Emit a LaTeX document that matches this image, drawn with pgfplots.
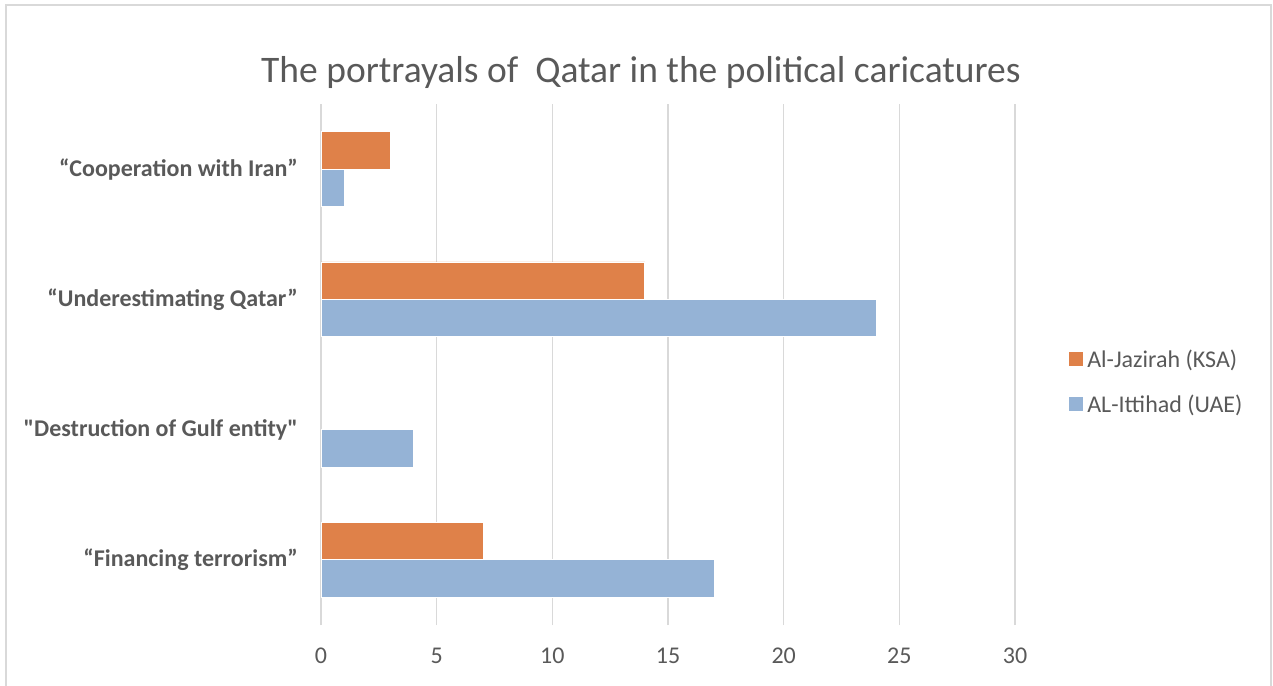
\documentclass[border=0pt]{standalone}
\usepackage{fontspec}
\setmainfont[Ligatures=TeXOff]{Carlito}
\usepackage{pgfplots}
\pgfplotsset{compat=1.18}
\definecolor{orangebar}{RGB}{223,129,73}
\definecolor{bluebar}{RGB}{149,179,214}
\definecolor{txt}{RGB}{89,89,89}
\definecolor{gridc}{RGB}{217,217,217}
\begin{document}
\begin{tikzpicture}[x=1pt,y=1pt]
\useasboundingbox (0,0) rectangle (1273,685);
\draw[gridc, line width=1.5pt] (6,-5) -- (6,680) -- (1271,680) -- (1271,-5);
\begin{axis}[
  at={(321pt,60pt)}, anchor=south west,
  scale only axis, width=694pt, height=521pt,
  xmin=0, xmax=30, ymin=-0.5, ymax=3.5,
  xbar, bar width=0.287,
  xtick={0,5,...,30}, ytick={0,1,2,3},
  yticklabels={“Financing terrorism”, "Destruction of Gulf entity", “Underestimating Qatar”, “Cooperation with Iran”},
  axis line style={draw=none},
  major tick length=0pt,
  xmajorgrids, grid style={gridc, line width=1.4pt},
  /pgf/number format/assume math mode=true,
  tick label style={text=txt},
  xticklabel style={font=\fontsize{24}{28}\selectfont, anchor=north, inner sep=0pt, yshift=-23pt},
  yticklabel style={font=\fontsize{24}{28}\selectfont\bfseries, anchor=east, inner sep=0pt, xshift=-23pt},
  title={The portrayals of\ \ Qatar in the political caricatures},
  title style={font=\fontsize{37.5}{42}\selectfont, text=txt, anchor=base, at={(0.461,1)}, yshift=15pt, inner sep=0pt},
  legend style={at={(1.078,0.467)}, anchor=west, draw=none, fill=none, font=\fontsize{24}{28}\selectfont, text=txt, row sep=22pt, inner sep=0pt, nodes={inner xsep=4pt}},
  legend cell align=left,
  legend image code/.code={\fill[#1,draw=none] (0pt,-7pt) rectangle (14pt,7pt);},
  clip=false,
]
\addplot[fill=orangebar, draw=white, line width=0.8pt, bar shift=0.1435] coordinates {(7,0) (14,2) (3,3)};
\addlegendentry{Al-Jazirah (KSA)}
\addplot[fill=bluebar, draw=white, line width=0.8pt, bar shift=-0.1435] coordinates {(17,0) (4,1) (24,2) (1,3)};
\addlegendentry{AL-Ittihad (UAE)}
\end{axis}
\end{tikzpicture}
\end{document}
